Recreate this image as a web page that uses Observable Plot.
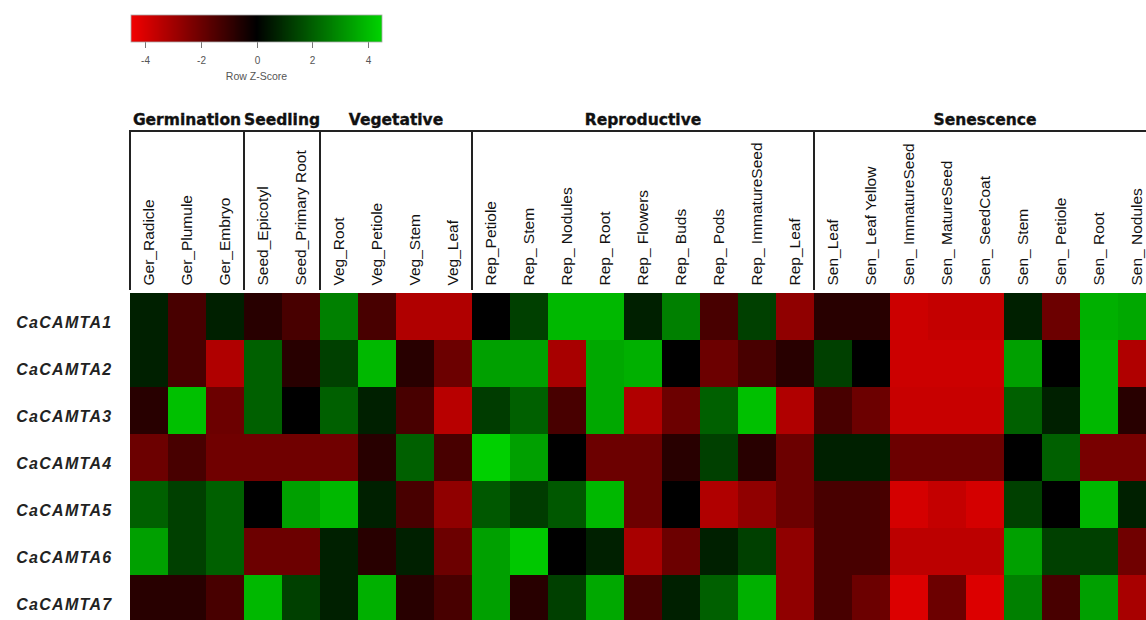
<!DOCTYPE html>
<html>
<head>
<meta charset="utf-8">
<script src="https://cdn.jsdelivr.net/npm/d3@7"></script>
<script src="https://cdn.jsdelivr.net/npm/@observablehq/plot@0.6"></script>
<style>
  html, body { margin: 0; padding: 0; background: #fff; overflow: hidden; }
  #wrap { position: relative; width: 1146px; height: 620px; }
  #chart, #legend { position: absolute; left: 0; top: 0; }
</style>
</head>
<body>
<div id="wrap"><div id="chart"></div><div id="legend"></div></div>
<script>
// ---- data ----
const genes = ["CaCAMTA1", "CaCAMTA2", "CaCAMTA3", "CaCAMTA4", "CaCAMTA5", "CaCAMTA6", "CaCAMTA7"];

const groupNames = ["Germination", "Seedling", "Vegetative", "Reproductive", "Senescence"];
const groupSizes = [3, 2, 4, 9, 9];

const tissues = [
  "Ger_Radicle", "Ger_Plumule", "Ger_Embryo",
  "Seed_Epicotyl", "Seed_Primary Root",
  "Veg_Root", "Veg_Petiole", "Veg_Stem", "Veg_Leaf",
  "Rep_Petiole", "Rep_ Stem", "Rep_ Nodules", "Rep_ Root", "Rep_ Flowers", "Rep_ Buds", "Rep_ Pods", "Rep_ ImmatureSeed", "Rep_Leaf",
  "Sen_Leaf", "Sen_ Leaf Yellow", "Sen_ ImmatureSeed", "Sen_ MatureSeed", "Sen_ SeedCoat", "Sen_ Stem", "Sen_ Petiole", "Sen_ Root", "Sen_ Nodules"
];

const zCaCAMTA1 = [0.68, -1.34, 0.68, -0.74, -1.34, 2.72, -1.34, -3.27, -3.27, 0, 1.36, 3.91, 3.91, 0.68, 2.72, -1.34, 1.36, -2.68, -0.74, -0.74, -3.79, -3.64, -3.64, 0.68, -2.0, 3.74, 3.57];
const zCaCAMTA2 = [0.68, -1.34, -3.27, 2.04, -0.74, 1.36, 3.91, -0.74, -2.0, 3.4, 3.4, -3.12, 3.57, 3.74, 0, -2.0, -1.34, -0.74, 1.36, 0, -3.79, -3.79, -3.79, 3.4, 0, 3.91, -3.27];
const zCaCAMTA3 = [-0.74, 4.08, -2.0, 2.04, 0, 2.04, 0.68, -1.34, -3.42, 1.27, 2.04, -1.34, 3.57, -3.27, -2.0, 2.04, 4.08, -3.27, -1.34, -2.0, -3.72, -3.72, -3.72, 2.04, 0.68, 3.91, -0.74];
const zCaCAMTA4 = [-2.0, -1.34, -2.08, -2.08, -2.08, -2.08, -0.74, 2.04, -1.34, 4.42, 3.4, 0, -2.0, -2.0, -0.74, 1.36, -0.74, -2.0, 0.68, 0.68, -2.0, -2.0, -2.0, 0, 2.04, -2.23, -2.23];
const zCaCAMTA5 = [2.04, 1.36, 2.04, 0, 3.4, 3.91, 0.68, -1.34, -2.68, 1.87, 1.27, 1.87, 3.91, -2.0, 0, -3.27, -2.68, -2.0, -1.34, -1.34, -3.94, -3.64, -3.94, 1.36, 0, 3.91, 0.68];
const zCaCAMTA6 = [3.4, 1.36, 2.04, -2.0, -2.0, 0.68, -0.74, 0.68, -2.0, 3.4, 4.25, 0, 0.68, -3.12, -2.0, 0.68, 1.36, -2.68, -1.34, -1.34, -3.5, -3.5, -3.5, 3.4, 1.36, 1.36, -2.08];
const zCaCAMTA7 = [-0.74, -0.74, -1.34, 3.91, 1.36, 0.68, 3.74, -0.74, -1.34, 3.4, -0.74, 1.36, 3.57, -1.34, 0.68, 2.04, 3.74, -2.68, -1.34, -2.0, -4.09, -2.0, -4.09, 2.72, -1.34, 3.4, -3.12];

const legendTicks = [-4, -2, 0, 2, 4];
const legendTitle = "Row Z-Score";

// ---- derived tables ----
const zRows = [zCaCAMTA1, zCaCAMTA2, zCaCAMTA3, zCaCAMTA4, zCaCAMTA5, zCaCAMTA6, zCaCAMTA7];
const cells = genes.flatMap((g, i) => tissues.map((t, j) => ({gene: g, tissue: t, z: zRows[i][j]})));
let acc = 0;
const groups = groupNames.map((name, k) => {
  const first = tissues[acc];
  const last = tissues[acc + groupSizes[k] - 1];
  acc += groupSizes[k];
  return {name, first, last};
});

const colorSpec = {
  type: "linear",
  domain: [-4.5, 0, 4.5],
  range: ["#f20000", "#000000", "#00d400"],
  interpolate: "rgb"
};

const FONT = "'Liberation Sans', Arial, Helvetica, sans-serif";

// header (group labels and bracket lines) drawn with the plot's x scale
function header(index, scales, values, dims) {
  const sx = scales.x;
  const bw = typeof sx.bandwidth === "function" ? sx.bandwidth() : sx.bandwidth;
  const g = d3.create("svg:g");
  const lineY = dims.marginTop - 159;
  const labelY = dims.marginTop - 165;
  const x0 = sx(tissues[0]);
  g.append("line")
    .attr("x1", x0 - 1).attr("x2", dims.width + 20)
    .attr("y1", lineY).attr("y2", lineY)
    .attr("stroke", "#222").attr("stroke-width", 2);
  for (const grp of groups) {
    const a = sx(grp.first);
    const b = sx(grp.last) + bw;
    g.append("line")
      .attr("x1", a).attr("x2", a)
      .attr("y1", lineY).attr("y2", dims.marginTop)
      .attr("stroke", "#222").attr("stroke-width", 2);
    g.append("text")
      .attr("x", (a + b) / 2).attr("y", labelY)
      .attr("text-anchor", "middle")
      .attr("font-family", "'DejaVu Sans', Verdana, sans-serif")
      .attr("font-weight", "bold")
      .attr("font-size", 15.5)
      .attr("fill", "#111")
      .attr("stroke", "#111")
      .attr("stroke-width", 0.35)
      .text(grp.name);
  }
  return g.node();
}

const chart = Plot.plot({
  width: 1146,
  height: 620,
  marginTop: 290,
  marginBottom: -4,
  marginLeft: 126,
  marginRight: -14,
  style: {fontFamily: FONT, background: "#fff"},
  x: {type: "band", domain: tissues, padding: 0, axis: null},
  y: {type: "band", domain: genes, padding: 0, axis: null},
  color: colorSpec,
  marks: [
    Plot.cell(cells, {x: "tissue", y: "gene", fill: "z", inset: 0, shapeRendering: "crispEdges"}),
    Plot.text(tissues, {
      x: d => d, frameAnchor: "top", rotate: -90, textAnchor: "start", lineAnchor: "middle",
      dy: -5, fontSize: 15.5, fill: "#111"
    }),
    Plot.text(genes, {
      y: d => d, frameAnchor: "left", textAnchor: "end", dx: -14, dy: 6,
      fontSize: 16, fontWeight: "bold", fontStyle: "italic", fill: "#222"
    }),
    header
  ]
});
d3.select(chart).selectAll("text")
  .filter(function () { return genes.includes(this.textContent); })
  .attr("letter-spacing", "1.3");
document.getElementById("chart").appendChild(chart);

// ---- legend ----
const L = {width: 392, height: 90, marginLeft: 131, marginRight: 10, marginTop: 15, marginBottom: 48};
const legend = Plot.legend({
  color: colorSpec,
  ...L,
  ticks: legendTicks,
  tickSize: 6,
  tickFormat: d => String(d),
  style: {fontFamily: FONT, fontSize: "10px", color: "#555", background: "transparent"}
});
const ls = d3.select(legend);
ls.selectAll(".tick line").attr("y1", 0).attr("y2", 6).attr("stroke", "#777");
ls.selectAll(".tick text").attr("y", 15).attr("fill", "#555");
const barH = L.height - L.marginTop - L.marginBottom;
const barW = L.width - L.marginLeft - L.marginRight;
ls.append("rect")
  .attr("x", L.marginLeft).attr("y", L.marginTop)
  .attr("width", barW).attr("height", barH)
  .attr("fill", "none").attr("stroke", "#aaa").attr("stroke-width", 0.8);
ls.append("text")
  .attr("x", L.marginLeft + barW / 2).attr("y", L.marginTop + barH + 38)
  .attr("text-anchor", "middle").attr("font-size", 10.5).attr("fill", "#555")
  .text(legendTitle);
document.getElementById("legend").appendChild(legend);
</script>
</body>
</html>
